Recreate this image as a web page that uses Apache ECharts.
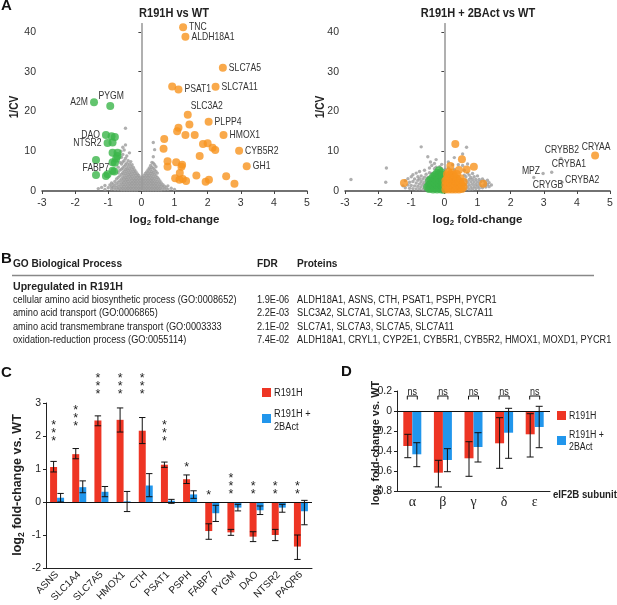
<!DOCTYPE html>
<html><head><meta charset="utf-8">
<script src="https://cdn.jsdelivr.net/npm/echarts@6/dist/echarts.min.js"></script>
<style>html,body{margin:0;padding:0;background:#fff}#c{width:617px;height:605px}</style>
</head><body><div id="c"></div>
<script>
// ---------------- DATA ----------------
const volcanoXTicks = [-3,-2,-1,0,1,2,3,4,5];
const volcanoYTicks = [0,10,20,30,40];

// Panel A left: R191H vs WT  [log2 fold-change, 1/CV]
const leftUp = [[1.26,41.2],[1.33,38.8],[2.46,31.0],[0.93,26.3],[1.12,25.5],[2.24,26.2],[1.40,19.2],[2.03,17.4],[1.45,16.7],[1.12,15.9],[1.08,15.0],[1.33,14.1],[1.61,14.1],[2.48,14.1],[0.69,13.1],[1.86,11.8],[2.00,12.0],[2.15,10.9],[2.23,10.3],[0.67,10.6],[2.95,10.1],[1.76,8.8],[0.79,7.5],[1.05,7.2],[1.23,6.6],[1.21,6.1],[0.79,6.1],[3.18,6.2],[1.16,4.5],[1.66,3.9],[2.56,3.7],[1.02,3.2],[1.15,2.8],[1.25,3.0],[1.35,2.5],[2.04,2.8],[1.94,2.3],[2.81,1.8]];
const leftUpNames = ['TNC','ALDH18A1','SLC7A5','','PSAT1','SLC7A11','SLC3A2','PLPP4','','','','','','HMOX1','','','','','','','CYB5R2','','','','','','','GH1','','','','','','','','','',''];
const leftDown = [[-1.43,22.3],[-0.94,21.4],[-1.07,14.1],[-0.90,13.8],[-0.80,13.6],[-1.02,12.1],[-0.87,12.2],[-0.72,9.6],[-0.87,9.6],[-0.72,8.8],[-1.37,7.8],[-0.87,7.2],[-0.80,7.1],[-0.87,5.1],[-0.82,4.9],[-1.37,4.0],[-1.07,3.8],[-1.02,4.2],[-0.76,8.2]];
const leftDownNames = ['A2M','PYGM','DAO','','','NTSR2','','','','','FABP7','','','','','','','',''];
const leftGrayCols = [
 [-1.3,[0.6]],[-1.2,[0.9]],[-1.1,[0.4,1.4]],[-1.0,[0.8]],[-0.95,[1.5]],[-0.9,[0.5,1.1,2.0]],[-0.85,[0.9,1.7]],
 [-0.8,[0.4,1.3,2.4]],[-0.75,[0.8,1.8,3.0]],[-0.7,[0.4,1.2,2.2,3.4,4.6,6.0]],[-0.65,[0.7,1.6,2.6,3.8,5.2,7.2]],
 [-0.6,[0.3,1.1,2.0,3.0,4.2,5.5,6.8,8.5]],[-0.62,[10.0]],[-0.56,[0.7,1.6,2.5,3.5,4.6,5.8,7.3,9.2,11.0]],
 [-0.52,[0.3,1.2,2.1,3.0,4.0,5.0,6.2,7.6,10.3]],[-0.48,[0.7,1.6,2.5,3.4,4.4,5.4,6.6,8.2,11.6,15.8]],
 [-0.44,[0.3,1.1,2.0,2.9,3.8,4.8,5.8,7.0,8.8]],[-0.40,[0.7,1.5,2.4,3.3,4.2,5.2,6.3,7.6]],
 [-0.36,[0.3,1.1,1.9,2.8,3.7,4.6,5.6,6.8,9.6]],[-0.32,[0.7,1.5,2.3,3.2,4.1,5.0,6.1,7.4]],
 [-0.28,[0.3,1.1,1.9,2.7,3.6,4.5,5.5,6.6]],[-0.24,[0.7,1.5,2.3,3.1,4.0,4.9,5.9]],
 [-0.20,[0.3,1.1,1.9,2.7,3.5,4.4,5.3]],[-0.16,[0.7,1.5,2.3,3.1,3.9,4.8]],[-0.12,[0.3,1.1,1.9,2.7,3.5,4.3]],
 [-0.08,[0.7,1.5,2.3,3.1,3.9]],[-0.04,[0.3,1.1,1.9,2.7,3.5]],[0.00,[0.7,1.5,2.3,3.1]],
 [0.04,[0.3,1.1,1.9,2.7,3.5]],[0.08,[0.7,1.5,2.3,3.1,3.9]],[0.12,[0.3,1.1,1.9,2.7,3.5,4.4]],
 [0.16,[0.7,1.5,2.3,3.1,3.9,4.8]],[0.20,[0.3,1.1,1.9,2.7,3.5,4.3,5.3]],[0.24,[0.7,1.5,2.3,3.1,3.9,4.8,5.8]],
 [0.28,[0.3,1.1,1.9,2.7,3.5,4.4,5.4,6.4]],[0.32,[0.7,1.5,2.3,3.1,4.0,4.9,6.0,7.2]],
 [0.36,[0.3,1.1,1.9,2.7,3.6,4.6,5.7,7.0,8.6,12.2]],[0.40,[0.7,1.5,2.3,3.2,4.2,5.3,6.6,10.4]],
 [0.44,[0.3,1.1,1.9,2.8,3.8,4.9,6.1]],[0.48,[0.7,1.5,2.4,3.4,4.5]],[0.52,[0.3,1.1,2.0,3.0]],
 [0.56,[0.7,1.6,2.5]],[0.60,[0.3,1.2,2.0]],[0.65,[0.8,1.6]],[0.70,[0.4,1.2]],[0.75,[0.8]],[0.80,[0.4,1.3]],[0.90,[0.7]],[1.00,[0.4]]
];

// Panel A right: R191H + 2BAct vs WT
const rightGrayCols = [
 [-2.82,[2.9]],[-1.77,[2.2]],[-1.75,[5.8]],[-1.25,[1.3]],[-1.18,[0.8,2.6]],[-1.1,[1.5,3.1]],[-1.05,[0.7,2.2]],
 [-1.0,[1.4,3.6]],[-0.95,[0.6,2.4,4.1]],[-0.9,[1.3,3.0]],[-0.85,[0.5,2.0,4.5]],[-0.8,[1.2,2.7,3.6]],
 [-0.75,[0.5,1.8,3.1,4.9]],[-0.7,[1.1,2.4,3.8,11.1]],[-0.65,[0.4,1.7,3.0]],[-0.6,[1.0,2.2,3.5,5.2]],
 [-0.55,[0.4,1.6,2.8,4.2]],[-0.5,[1.0,2.1,3.4,8.6]],[-0.45,[0.4,1.5,4.6,5.8]],[-0.42,[7.3]],[-0.38,[4.4,6.4]],
 [-0.3,[5.6,6.9]],[-0.25,[7.9,6.0]],[-0.14,[6.1]],[-0.08,[5.6,6.7]],[0.03,[5.4]],[0.12,[5.8,7.3]],[0.25,[6.6]],
 [0.3,[5.4,8.4]],[0.42,[6.6]],[0.55,[6.4,9.3]],[0.6,[4.0,5.2]],[0.67,[11.0]],[0.65,[0.5,1.6,2.7,3.6]],
 [0.7,[1.0,2.2,4.5,6.8]],[0.75,[0.4,1.6,2.9,4.0]],[0.8,[1.0,2.3,3.4]],[0.85,[0.5,1.7,2.9,4.4]],[0.9,[1.1,2.3,3.6]],
 [0.95,[0.6,1.7,2.9]],[1.0,[1.2,2.3,3.8]],[1.05,[0.7,1.8,2.9]],[1.1,[1.3,2.4]],[1.15,[0.8,3.0]],[1.2,[1.5,2.5]],
 [1.25,[1.0,2.0]],[1.3,[1.6,2.7]],[1.35,[1.1,2.1]],[1.42,[1.5]]
];
const rightGrayNamed = [[3.52,8.2],[3.24,4.7],[2.98,4.4],[2.70,3.4],[3.55,2.2]];
const rightGrayNames = ['CRYBB2','CRYBA1','MPZ','CRYGB','CRYBA2'];
const rightGreenCols = [
 [-0.52,[1.0]],[-0.46,[0.5,1.6,2.6]],[-0.40,[0.9,2.0,3.0]],[-0.34,[0.4,1.5,2.6,3.6]],[-0.28,[0.9,2.0,3.1,4.0]],
 [-0.22,[0.4,1.5,2.6,3.7,4.6]],[-0.16,[0.9,2.0,3.1,4.2,5.2]],[-0.10,[0.4,1.5,2.6,3.7,4.7]],[-0.05,[0.9,2.0,3.1,4.0]],[-0.02,[0.3,1.4,2.5]]
];
const rightOrangeCols = [
 [0.03,[0.4,1.5,2.6]],[0.08,[0.9,2.0,3.1,4.2]],[0.13,[0.4,1.5,2.6,3.7,4.8]],[0.18,[0.9,2.0,3.1,4.2,6.3]],
 [0.23,[0.4,1.5,2.6,3.7,4.6]],[0.28,[0.9,2.0,3.1,4.0]],[0.33,[0.4,1.5,2.6,3.5,11.8]],[0.38,[0.9,2.0,3.0,4.3]],
 [0.44,[0.4,1.5,2.5,5.3]],[0.49,[0.9,2.0,3.2]],[0.53,[0.5,1.6,8.0]],[0.58,[1.0,2.3]],[0.67,[5.4]],[0.89,[6.1]],
 [1.17,[1.8]],[-1.22,[2.0]]
];
const rightOrangeNamed = [[4.55,8.9]];
const rightOrangeNames = ['CRYAA'];

// Panel B: GO table
const goHeader = ['GO Biological Process','FDR','Proteins'];
const goGroup = 'Upregulated in R191H';
const goTerms = ['cellular amino acid biosynthetic process (GO:0008652)','amino acid transport (GO:0006865)','amino acid transmembrane transport (GO:0003333','oxidation-reduction process (GO:0055114)'];
const goFDR = ['1.9E-06','2.2E-03','2.1E-02','7.4E-02'];
const goProteins = ['ALDH18A1, ASNS, CTH, PSAT1, PSPH, PYCR1','SLC3A2, SLC7A1, SLC7A3, SLC7A5, SLC7A11','SLC7A1, SLC7A3, SLC7A5, SLC7A11','ALDH18A1, CRYL1, CYP2E1, CYB5R1, CYB5R2, HMOX1, MOXD1, PYCR1'];

// Panel C
const cGenes = ['ASNS','SLC1A4','SLC7A5','HMOX1','CTH','PSAT1','PSPH','FABP7','PYGM','DAO','NTSR2','PAQR6'];
const cR191H   = [1.06,1.45,2.47,2.49,2.16,1.13,0.69,-0.88,-0.92,-1.05,-1.00,-1.35];
const cR191HLo = [0.91,1.31,2.31,2.12,1.77,1.05,0.56,-1.13,-1.01,-1.20,-1.17,-1.74];
const cR191HHi = [1.23,1.62,2.61,2.85,2.56,1.21,0.82,-0.66,-0.83,-0.90,-0.83,-1.00];
const cBAct    = [0.13,0.45,0.31,0.02,0.50,0.04,0.23,-0.34,-0.17,-0.25,-0.17,-0.28];
const cBActLo  = [0.00,0.28,0.16,-0.29,0.16,-0.04,0.11,-0.59,-0.27,-0.38,-0.31,-0.69];
const cBActHi  = [0.26,0.64,0.47,0.32,0.86,0.08,0.34,-0.10,-0.07,-0.12,-0.07,0.05];
const cStars    = [3,3,3,3,3,3,1,1,3,2,2,2];
const cStarBase = [1.93,2.39,3.35,3.35,3.35,1.93,1.13,0.29,0.32,0.32,0.32,0.32];
const cYTicks = [-2,-1,0,1,2,3];

// Panel D
const dSubunits = ['α','β','γ','δ','ε'];
const dR191H   = [-0.350,-0.617,-0.473,-0.323,-0.233];
const dR191HLo = [-0.467,-0.760,-0.653,-0.573,-0.460];
const dR191HHi = [-0.233,-0.493,-0.307,-0.067,-0.027];
const dBAct    = [-0.433,-0.490,-0.360,-0.217,-0.160];
const dBActLo  = [-0.557,-0.607,-0.510,-0.473,-0.367];
const dBActHi  = [-0.317,-0.377,-0.217,0.027,0.047];
const dSig = ['ns','ns','ns','ns','ns'];

// ---------------- STYLE ----------------
const FF = "'Liberation Sans', Arial, sans-serif";
const RED = '#EE3524', BLUE = '#2196EC', ORANGE = '#F7941E', GREEN = '#3BB54A', GRAY = '#9B9B9B';
const flat = cols => cols.flatMap(([x, ys]) => ys.map(y => [x, y]));

const chart = echarts.init(document.getElementById('c'), null, {renderer:'canvas'});

function volcanoX(gi){
  return {gridIndex:gi, type:'value', min:-3, max:5, interval:1,
    axisLine:{onZero:false, lineStyle:{color:'#444', width:1.5}},
    axisTick:{length:3, lineStyle:{color:'#444'}},
    axisLabel:{fontFamily:FF, fontSize:10.5, color:'#333', margin:7, customValues:volcanoXTicks},
    splitLine:{show:false}};
}
function volcanoY(gi){
  return {gridIndex:gi, type:'value', min:0, max:42,
    axisLine:{show:true, lineStyle:{color:'#444', width:1.5}},
    axisTick:{show:true, length:3, lineStyle:{color:'#444'}, customValues:volcanoYTicks},
    axisLabel:{fontFamily:FF, fontSize:10.5, color:'#333', margin:6, customValues:volcanoYTicks},
    splitLine:{show:false}};
}
const zeroV = {silent:true, symbol:'none', label:{show:false}, lineStyle:{color:'#c4c4c4', width:1.5, type:'solid'}, data:[{xAxis:0}], z:1};
const zeroH = {silent:true, symbol:'none', label:{show:false}, lineStyle:{color:'#111', width:1, type:'solid'}, data:[{yAxis:0}]};

function errSeries(xi, yi, lo, hi, dx, cap){
  return {type:'custom', xAxisIndex:xi, yAxisIndex:yi, clip:false, z:5, silent:true,
    data: lo.map((l,i)=>[i, l, hi[i]]),
    renderItem:(p, api)=>{
      const a = api.coord([api.value(0), api.value(1)]);
      const b = api.coord([api.value(0), api.value(2)]);
      const x = a[0] + dx;
      const st = {stroke:'#111', lineWidth:1};
      return {type:'group', children:[
        {type:'line', shape:{x1:x, y1:a[1], x2:x, y2:b[1]}, style:st},
        {type:'line', shape:{x1:x-cap, y1:a[1], x2:x+cap, y2:a[1]}, style:st},
        {type:'line', shape:{x1:x-cap, y1:b[1], x2:x+cap, y2:b[1]}, style:st}]};
    }};
}

const series = [
  {type:'scatter', xAxisIndex:0, yAxisIndex:0, data:flat(leftGrayCols), symbolSize:3.4, itemStyle:{color:GRAY}, silent:true, markLine:zeroV, z:2},
  {type:'scatter', xAxisIndex:0, yAxisIndex:0, data:leftDown, symbolSize:8, itemStyle:{color:GREEN}, silent:true, z:3},
  {type:'scatter', xAxisIndex:0, yAxisIndex:0, data:leftUp, symbolSize:8, itemStyle:{color:ORANGE}, silent:true, z:3},
  {type:'scatter', xAxisIndex:1, yAxisIndex:1, data:flat(rightGrayCols).concat(rightGrayNamed), symbolSize:3.4, itemStyle:{color:GRAY}, silent:true, markLine:zeroV, z:2},
  {type:'scatter', xAxisIndex:1, yAxisIndex:1, data:flat(rightGreenCols), symbolSize:8, itemStyle:{color:GREEN}, silent:true, z:3},
  {type:'scatter', xAxisIndex:1, yAxisIndex:1, data:flat(rightOrangeCols).concat(rightOrangeNamed), symbolSize:8, itemStyle:{color:ORANGE}, silent:true, z:3},
  {type:'bar', xAxisIndex:2, yAxisIndex:2, data:cR191H, barWidth:7, barGap:'0%', itemStyle:{color:RED}, silent:true, markLine:zeroH},
  {type:'bar', xAxisIndex:2, yAxisIndex:2, data:cBAct, barWidth:7, barGap:'0%', itemStyle:{color:BLUE}, silent:true},
  errSeries(2,2,cR191HLo,cR191HHi,-3.5,3.2),
  errSeries(2,2,cBActLo,cBActHi,3.5,3.2),
  {type:'custom', xAxisIndex:2, yAxisIndex:2, clip:false, z:6, silent:true,
    data: cStars.map((n,i)=>[i, cStarBase[i], n]),
    renderItem:(p, api)=>{
      const c = api.coord([api.value(0), api.value(1)]);
      const n = api.value(2), ch = [];
      for (let k=0;k<n;k++) ch.push({type:'text', x:c[0]-3.5, y:c[1]-k*7.8+3,
        style:{text:'*', fontFamily:FF, fontSize:12.5, fill:'#222', textAlign:'center', textVerticalAlign:'middle'}});
      return {type:'group', children:ch};
    }},
  {type:'bar', xAxisIndex:3, yAxisIndex:3, data:dR191H, barWidth:9, barGap:'0%', itemStyle:{color:RED}, silent:true, markLine:zeroH},
  {type:'bar', xAxisIndex:3, yAxisIndex:3, data:dBAct, barWidth:9, barGap:'0%', itemStyle:{color:BLUE}, silent:true},
  errSeries(3,3,dR191HLo,dR191HHi,-4.5,3.5),
  errSeries(3,3,dBActLo,dBActHi,4.5,3.5),
  {type:'custom', xAxisIndex:3, yAxisIndex:3, clip:false, z:6, silent:true,
    data: dSig.map((s,i)=>[i, 0]),
    renderItem:(p, api)=>{
      const i = api.value(0);
      const c = api.coord([i, 0.15]);
      const t = api.coord([i, 0.19]);
      return {type:'group', children:[
        {type:'polyline', shape:{points:[[c[0]-5,c[1]+3.5],[c[0]-5,c[1]],[c[0]+5,c[1]],[c[0]+5,c[1]+3.5]]}, style:{stroke:'#111', lineWidth:1, fill:null}},
        {type:'text', x:t[0], y:t[1], scaleX:0.9, style:{text:dSig[i], fontFamily:FF, fontSize:10, fill:'#222', textAlign:'center', textVerticalAlign:'middle'}}]};
    }}
];

const option = {
  animation:false,
  backgroundColor:'#fff',
  grid:[
    {left:42, top:24, width:265, height:167},
    {left:345, top:24, width:265, height:167},
    {left:46, top:403, width:266, height:169},
    {left:397, top:391, width:153, height:100}
  ],
  xAxis:[
    volcanoX(0), volcanoX(1),
    {gridIndex:2, type:'category', data:cGenes,
      axisLine:{onZero:false, lineStyle:{color:'#222'}}, axisTick:{alignWithLabel:true, length:3, lineStyle:{color:'#222'}},
      axisLabel:{interval:0, rotate:45, fontFamily:FF, fontSize:10, color:'#222', margin:5}},
    {gridIndex:3, type:'category', data:dSubunits,
      axisLine:{onZero:false, lineStyle:{color:'#222'}}, axisTick:{alignWithLabel:true, length:3, inside:true, lineStyle:{color:'#222'}},
      axisLabel:{interval:0, fontFamily:"'Liberation Serif', 'Times New Roman', serif", fontSize:14, color:'#222', margin:4}}
  ],
  yAxis:[
    volcanoY(0), volcanoY(1),
    {gridIndex:2, type:'value', min:-2, max:3, interval:1,
      axisLine:{show:true, lineStyle:{color:'#222'}}, axisTick:{show:true, length:3, lineStyle:{color:'#222'}},
      axisLabel:{fontFamily:FF, fontSize:10.5, color:'#222', margin:5, customValues:cYTicks}, splitLine:{show:false}},
    {gridIndex:3, type:'value', min:-0.8, max:0.2, interval:0.2,
      axisLine:{show:true, lineStyle:{color:'#222'}}, axisTick:{show:true, length:3, lineStyle:{color:'#222'}},
      axisLabel:{fontFamily:FF, fontSize:10.5, color:'#222', margin:5, formatter:v=>Math.abs(v)<1e-9?'0':v.toFixed(1)}, splitLine:{show:false}}
  ],
  series
};
chart.setOption(option);

// ---------------- TEXT / ANNOTATIONS ----------------
function T(text, x, y, o={}){
  return {type:'text', x, y, scaleX:o.sx ?? 1, rotation:o.rot||0, silent:true, z:50,
    style:{text, fontFamily:o.ff||FF, fontSize:o.size||10, fontWeight:o.bold?'bold':'normal', fill:o.color||'#222',
      textAlign:o.align||'left', textVerticalAlign:o.va||'middle', rich:o.rich}};
}
function R(x,y,w,h,color){ return {type:'rect', shape:{x,y,width:w,height:h}, style:{fill:color}, silent:true, z:50}; }
const logRich = (size)=>({a:{fontFamily:FF, fontSize:size, fontWeight:'bold', fill:'#222'}, s:{fontFamily:FF, fontSize:size*0.68, fontWeight:'bold', fill:'#222', padding:[size*0.55,0,0,0]}});

const g = [];
// panel letters
g.push(T('A', 1, 6, {size:15, bold:true, color:'#111'}));
g.push(T('B', 1, 259, {size:15, bold:true, color:'#111'}));
g.push(T('C', 1, 373, {size:15, bold:true, color:'#111'}));
g.push(T('D', 341, 372, {size:15, bold:true, color:'#111'}));
// A titles & axis names
g.push(T('R191H vs WT', 174, 14, {size:12, bold:true, align:'center', sx:0.92}));
g.push(T('R191H + 2BAct vs WT', 478, 14, {size:12, bold:true, align:'center', sx:0.92}));
g.push(T('1/CV', 15, 107, {size:12, bold:true, align:'center', rot:Math.PI/2, sx:0.85}));
g.push(T('1/CV', 321, 107, {size:12, bold:true, align:'center', rot:Math.PI/2, sx:0.85}));
g.push(T('{a|log}{s|2}{a| fold-change}', 174.5, 220, {align:'center', rich:logRich(11.5)}));
g.push(T('{a|log}{s|2}{a| fold-change}', 477.5, 220, {align:'center', rich:logRich(11.5)}));

// B table
const colX = [13, 257, 297];
g.push(T(goHeader[0], colX[0], 264, {size:11, bold:true, sx:0.92}));
g.push(T(goHeader[1], colX[1], 264, {size:11, bold:true, sx:0.92}));
g.push(T(goHeader[2], colX[2], 264, {size:11, bold:true, sx:0.92}));
g.push({type:'line', shape:{x1:12, y1:275.5, x2:594, y2:275.5}, style:{stroke:'#888', lineWidth:1.5}, silent:true, z:50});
g.push(T(goGroup, 13, 287, {size:11.5, bold:true, sx:0.92}));
const rowY = [300, 313, 327, 340];
goTerms.forEach((t,i)=>{
  g.push(T(t, colX[0], rowY[i], {size:10, sx:0.92}));
  g.push(T(goFDR[i], colX[1], rowY[i], {size:10, sx:0.92}));
  g.push(T(goProteins[i], colX[2], rowY[i], {size:10, sx:0.92}));
});

// C legend & axis title
g.push(R(262, 388, 9, 9, RED));
g.push(T('R191H', 274, 393, {size:10, sx:0.92}));
g.push(R(262, 414, 9, 9, BLUE));
g.push(T('R191H +', 274, 414, {size:10, sx:0.92}));
g.push(T('2BAct', 274, 427, {size:10, sx:0.92}));
g.push(T('{a|log}{s|2}{a| fold-change vs. WT}', 18, 485, {align:'center', rot:Math.PI/2, rich:logRich(12.5)}));

// D legend & axis title
g.push(R(557, 411, 9, 9, RED));
g.push(T('R191H', 569, 416, {size:10, sx:0.88}));
g.push(R(557, 436, 9, 9, BLUE));
g.push(T('R191H +', 569, 435, {size:10, sx:0.88}));
g.push(T('2BAct', 569, 447, {size:10, sx:0.88}));
g.push(T('{a|log}{s|2}{a| fold-change vs. WT}', 376, 443, {align:'center', rot:Math.PI/2, rich:logRich(11)}));
g.push(T('eIF2B subunit', 553, 495, {size:10.5, bold:true, sx:0.92}));

// gene labels in A, placed through the chart's own scales
const labelPlace = {
  TNC:['left',6,0], ALDH18A1:['left',6,0], SLC7A5:['left',6,0], PSAT1:['left',6,0], SLC7A11:['left',6,0],
  SLC3A2:['left',3,-9], PLPP4:['left',6,0], HMOX1:['left',6,0], CYB5R2:['left',6,0], GH1:['left',6,0],
  A2M:['right',-6,0], PYGM:['center',1,-10], DAO:['right',-6,0], NTSR2:['right',-6,0], FABP7:['center',0,8],
  CRYAA:['center',1,-9], CRYBB2:['center',1,-8], CRYBA1:['left',0,-8], MPZ:['right',-3,-2], CRYGB:['left',-1,8], CRYBA2:['left',3,-2]
};
function addLabels(points, names, gi){
  points.forEach((p,i)=>{
    const n = names[i]; if(!n) return;
    const px = chart.convertToPixel({gridIndex:gi}, p);
    const pl = labelPlace[n];
    g.push(T(n, px[0]+pl[1], px[1]+pl[2], {size:10.5, align:pl[0], sx:0.82, color:'#333'}));
  });
}
addLabels(leftUp, leftUpNames, 0);
addLabels(leftDown, leftDownNames, 0);
addLabels(rightGrayNamed, rightGrayNames, 1);
addLabels(rightOrangeNamed, rightOrangeNames, 1);

chart.setOption({graphic:{elements:g}});
</script></body></html>
